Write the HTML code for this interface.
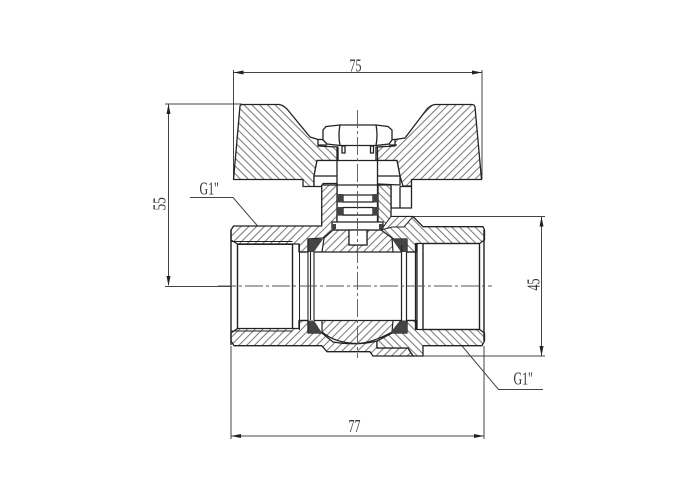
<!DOCTYPE html>
<html><head><meta charset="utf-8"><style>
html,body{margin:0;padding:0;background:#fff}
svg{display:block}
text{font-family:"Liberation Serif",serif;fill:#333;font-size:14px}
</style></head><body>
<svg width="700" height="500" viewBox="0 0 700 500" xmlns="http://www.w3.org/2000/svg">
<defs>
<pattern id="hl" width="5.500" height="5.500" patternUnits="userSpaceOnUse" patternTransform="rotate(45)"><rect width="5.500" height="5.500" fill="#fff"/><line x1="0" y1="0.600" x2="5.500" y2="0.600" stroke="#666" stroke-width="0.900"/></pattern>
<pattern id="hr" width="5.500" height="5.500" patternUnits="userSpaceOnUse" patternTransform="rotate(-45)"><rect width="5.500" height="5.500" fill="#fff"/><line x1="0" y1="0.600" x2="5.500" y2="0.600" stroke="#666" stroke-width="0.900"/></pattern>
</defs>
<rect width="700" height="500" fill="#fff"/>

<!-- extension and dimension lines -->
<g stroke="#444" stroke-width="1" fill="none">
<path d="M233.500 70V179M482 70V179M233 72.500H482"/>
<path d="M165 104H242M168.500 104V285M165 286.500H232"/>
<path d="M391 216.500H545M541.500 216.500V356M423 356H545"/>
<path d="M231 346V439M484 346V439M231 436H484" />
<path d="M190 197.500H233L268 238"/>
<path d="M460 343.500L498.500 389.500H543"/>
</g>
<g fill="#222">
<path d="M233.500 72.500l10-2v4zM482 72.500l-10-2v4z"/>
<path d="M168.500 104l-2 10h4zM168.500 286l-2-10h4z"/>
<path d="M541.500 216.500l-2 10h4zM541.500 356l-2-10h4z"/>
<path d="M231 436l10-2v4zM484 436l-10-2v4z"/>
</g>

<!-- handle -->
<g stroke="#222" stroke-width="1.300" stroke-linejoin="round">
<path fill="url(#hl)" d="M233.500 179.500L240 106Q240.500 104.500 243 104.500H279Q283 105 287 109L310 137L318 139.500V146L338 147V160.500H317L314 176V186.500H303V179.500Z"/>
<path fill="url(#hr)" d="M481.500 179.500L475 107Q474.500 104.500 472 104.500H435Q431 105 427 109L405 138L395 139.500V146L376 147V160.500H397L400 176L403 186H411.500V179.500Z"/>
</g>
<!-- stem collar -->
<g stroke="#222" stroke-width="1.300" fill="#fff">
<path d="M317 160.500H397L400 176V185L378 184V185H337V183.500H323V186.500H314V176Z"/>
<path d="M314 176H337M378 176H400" fill="none"/>
<path d="M337 147V222M377.500 147V222" fill="none"/>
<path d="M400 186.500H411.500V208H391V186" fill="none"/>
<path d="M400 186.500V208" fill="none"/>
</g>
<!-- nut -->
<g stroke="#222" stroke-width="1.300" fill="#fff">
<path d="M326 126.500L340 125H376L388 126.500L392 130L392 140L389 144L376 145.500H340L327 144L323 140V130Z"/>
<path d="M340 125Q338 135 340 145.500M376 125Q378 135 376 145.500"/>
<path d="M318 139.500H323M318 145H327M395 139.500H392M397 145H389" fill="none"/>
<path d="M342 146H345V153H342ZM370.500 146H373.500V153H370.500Z"/>
</g>

<!-- body: upper left -->
<path d="M231 230L233.500 226H321.700V185H337V228L333 230L323 238L308 239V252H299V244H237.500L231 240Z" fill="url(#hr)" stroke="#222" stroke-width="1.300" stroke-linejoin="round"/>
<!-- upper right -->
<path d="M378 185H391V216.500H413L423 226.700H483L484.500 230V240L479.500 243.500H416V252H407V239H392L381 230L378 228Z" fill="url(#hl)" stroke="#222" stroke-width="1.300" stroke-linejoin="round"/>
<path d="M381 230L391 216.500H413L404 227H392Z" fill="url(#hr)" stroke="#222" stroke-width="1"/>
<!-- ball top -->
<path d="M322 252L324 238L333 230H349V245H367V230H381L392 238L393 252Z" fill="url(#hr)" stroke="#222" stroke-width="1.200"/>
<!-- lower band -->
<path d="M231 333L237.500 328.500H299V320.500H308V333H322L333 342Q357 346 377 341V348H408L413 356H373L370 351.700H327L321.700 345.700H234L231 341Z" fill="url(#hr)" stroke="#222" stroke-width="1.300" stroke-linejoin="round"/>
<!-- lower right -->
<path d="M407 320.500H416V329.500H479.500L484.500 333V341L482 345.700H423V356H413L408 348H377V341L392 333H407Z" fill="url(#hl)" stroke="#222" stroke-width="1.300" stroke-linejoin="round"/>
<!-- ball bottom -->
<path d="M322 320.500H393L392 332Q372 343 357 343.500Q335 343 322 332Z" fill="url(#hr)" stroke="#222" stroke-width="1.200"/>

<!-- stem interior -->
<g stroke="#222" stroke-width="1.300" fill="#fff">
<rect x="337" y="215" width="40.500" height="8"/>
<path d="M332 222H383V228L380 230H335L332 228Z"/>
<path d="M349 230V245H367V230Z"/>
<path d="M343 195H373V202H343ZM343 207.500H373V215H343Z"/>
</g>
<g fill="#444">
<rect x="337" y="194" width="6" height="8.500"/><rect x="373" y="194" width="5" height="8.500"/>
<rect x="337" y="207" width="6" height="8.500"/><rect x="373" y="207" width="5" height="8.500"/>
<path d="M308 239H323L314 252H308ZM392 239H407V252H401ZM308 320.500H314L322 333H308ZM400 320.500H407V333H390Z"/>
<rect x="332" y="224" width="4" height="5"/><rect x="379" y="224" width="4" height="5"/>
</g>

<!-- bores -->
<g stroke="#222" fill="none">
<path d="M231 230V345" stroke-width="1.400"/>
<path d="M237.500 244V329M292.500 244V329" stroke-width="1.400"/>
<path d="M237.500 244.500H292.500M237.500 328.500H292.500M231 241.500H292.500M231 331H292.500" stroke-width="1"/>
<path d="M299.500 244V330" stroke-width="1"/>
<path d="M300 252H308M300 320.500H308" stroke-width="1.200"/>
<path d="M308 239V333M310.500 252V320M314 252V320" stroke-width="1.100"/>
<path d="M314 252H322M393 252H402M314 320.500H322M393 320.500H402" stroke-width="1.200"/>
<path d="M401.500 245V322M406.500 252V322" stroke-width="1.200"/>
<path d="M415.500 243V330M417 243V330" stroke-width="1.300"/>
<path d="M423 243V330M479.500 243V330" stroke-width="1.400"/>
<path d="M423 243.500H479.500M423 329.500H479.500" stroke-width="1.300"/>
<path d="M484 230V341" stroke-width="1.400"/>
<path d="M407 252H416M407 320.500H416" stroke-width="1.200"/>
</g>

<!-- centre lines -->
<g stroke="#555" stroke-width="0.900" fill="none" stroke-dasharray="18 3 3 3">
<path d="M218 286H492"/>
<path d="M357.500 110V358"/>
</g>

<!-- labels -->
<text x="0" y="0" transform="translate(349.500 71.500) scale(.85 1.300)">75</text>
<text x="0" y="0" transform="translate(348.500 432) scale(.85 1.300)">77</text>
<text x="0" y="0" transform="translate(165.500 210.500) rotate(-90) scale(.95 1.250)">55</text>
<text x="0" y="0" transform="translate(539.500 290.500) rotate(-90) scale(.85 1.250)">45</text>
<text x="0" y="0" transform="translate(199.500 194.500) scale(.85 1.250)">G1"</text>
<text x="0" y="0" transform="translate(513.500 384.500) scale(.85 1.250)">G1"</text>
</svg>
</body></html>
